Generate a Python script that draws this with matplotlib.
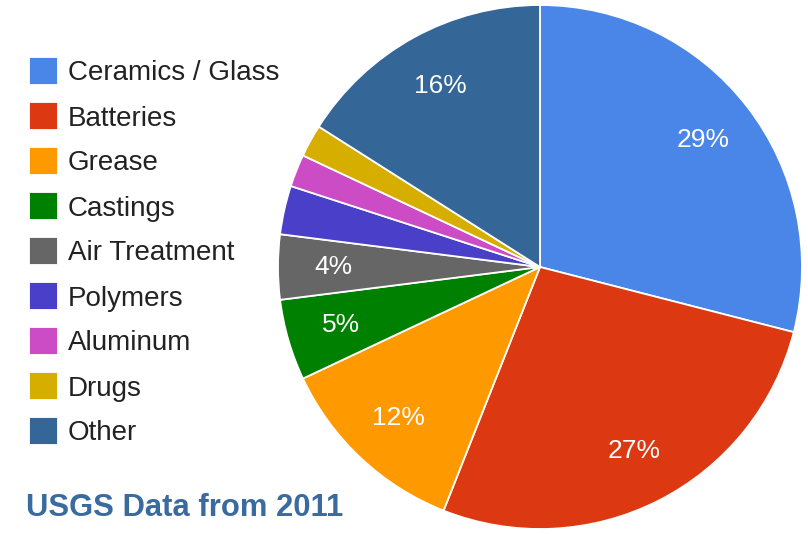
import matplotlib
matplotlib.use("Agg")
import matplotlib.pyplot as plt
from matplotlib.patches import Rectangle

plt.rcParams['font.family'] = ['Liberation Sans', 'DejaVu Sans']

categories = ["Ceramics / Glass", "Batteries", "Grease", "Castings", "Air Treatment",
              "Polymers", "Aluminum", "Drugs", "Other"]
shares = [29, 27, 12, 5, 4, 3, 2, 2, 16]
colors = ["#4a86e8", "#dc3912", "#ff9900", "#008000", "#666666",
          "#4a3fc8", "#cc4cc6", "#d6ae00", "#356698"]
title = "USGS Data from 2011"

W, H = 808, 534
fig = plt.figure(figsize=(W / 100, H / 100), dpi=100)

# pie placed so that its circle sits at the right of the canvas
cx, cy, r = 540, 267, 262
lim = 1.0
ax = fig.add_axes([(cx - r) / W, (H - cy - r) / H, 2 * r / W, 2 * r / H])
wedges, texts, autotexts = ax.pie(
    shares, colors=colors, startangle=90, counterclock=False,
    autopct=lambda p: f"{p:.0f}%" if p >= 3.5 else "",
    pctdistance=0.79,
    wedgeprops=dict(edgecolor="white", linewidth=1.3, clip_on=False),
    textprops=dict(color="white", fontsize=19),
)
ax.set_xlim(-lim, lim)
ax.set_ylim(-lim, lim)
ax.set_aspect("equal")
ax.axis("off")

# legend: colored squares with labels down the left side
row0, step = 70.5, 45
for i, (lab, col) in enumerate(zip(categories, colors)):
    yc = row0 + i * step
    fig.add_artist(Rectangle((29 / W, (H - yc - 13.5) / H), 27.5 / W, 27 / H,
                             transform=fig.transFigure, facecolor=col,
                             edgecolor="white", linewidth=0.6))
    fig.text(68 / W, (H - yc) / H, lab, fontsize=20, color="#222222",
             ha="left", va="center_baseline")

fig.text(26 / W, (H - 505) / H, title, fontsize=22.3, fontweight="bold",
         color="#3a6b9f", ha="left", va="center_baseline")

fig.savefig("out.png", dpi=100, facecolor="white")
